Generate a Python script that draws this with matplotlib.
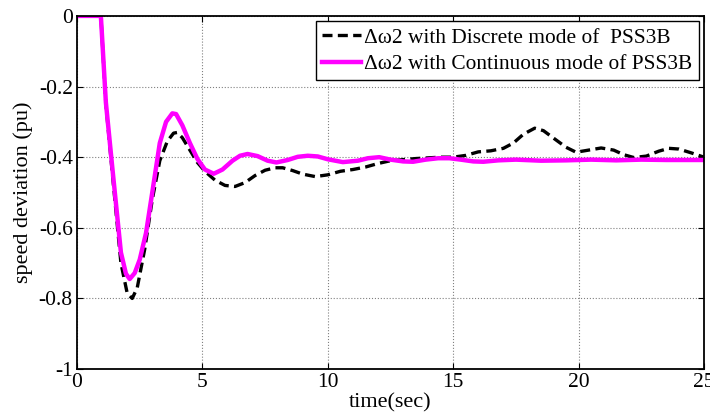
import matplotlib
matplotlib.use("Agg")
import matplotlib.pyplot as plt

# --- data ---
t_discrete = [0, 0.95, 1.15, 1.4, 1.75, 2.0, 2.2, 2.4, 2.7, 3.0, 3.3, 3.6, 3.85, 4.0,
              4.2, 4.5, 4.8, 5.1, 5.5, 5.9, 6.3, 6.7, 7.1, 7.5, 7.9, 8.2, 8.6, 9.0,
              9.5, 10.0, 10.5, 11.0, 11.5, 12.0, 12.5, 13.0, 13.5, 14.0, 14.5, 15.0,
              15.5, 16.0, 16.5, 17.0, 17.4, 17.8, 18.25, 18.6, 19.0, 19.5, 19.9,
              20.4, 20.9, 21.4, 21.8, 22.2, 22.7, 23.2, 23.6, 24.0, 24.5, 25.0]
w_discrete = [0, 0, -0.25, -0.44, -0.70, -0.785, -0.80, -0.77, -0.66, -0.52, -0.41,
              -0.355, -0.332, -0.33, -0.345, -0.38, -0.415, -0.44, -0.465, -0.48,
              -0.483, -0.472, -0.452, -0.437, -0.43, -0.43, -0.438, -0.448, -0.455,
              -0.45, -0.44, -0.435, -0.428, -0.418, -0.41, -0.407, -0.404, -0.402,
              -0.40, -0.40, -0.395, -0.385, -0.382, -0.375, -0.36, -0.335, -0.318,
              -0.325, -0.346, -0.372, -0.386, -0.38, -0.374, -0.38, -0.393, -0.401,
              -0.397, -0.383, -0.375, -0.377, -0.388, -0.40]

t_continuous = [0, 0.95, 1.15, 1.4, 1.75, 1.95, 2.1, 2.3, 2.5, 2.75, 3.0, 3.3, 3.55,
                3.8, 3.95, 4.2, 4.5, 4.8, 5.1, 5.45, 5.8, 6.2, 6.5, 6.8, 7.2, 7.6,
                7.95, 8.4, 8.8, 9.2, 9.6, 10.0, 10.6, 11.2, 11.6, 12.05, 12.5, 13.0,
                13.4, 13.9, 14.4, 14.85, 15.3, 15.8, 16.2, 16.8, 17.5, 18.5, 19.5,
                20.5, 21.5, 22.5, 23.5, 24.5, 25.0]
w_continuous = [0, 0, -0.245, -0.425, -0.67, -0.73, -0.745, -0.728, -0.69, -0.615,
                -0.50, -0.36, -0.30, -0.276, -0.278, -0.31, -0.36, -0.405, -0.435,
                -0.447, -0.435, -0.41, -0.396, -0.391, -0.397, -0.41, -0.415, -0.408,
                -0.399, -0.396, -0.398, -0.406, -0.414, -0.41, -0.403, -0.40, -0.407,
                -0.412, -0.413, -0.407, -0.403, -0.403, -0.407, -0.412, -0.413,
                -0.409, -0.407, -0.41, -0.409, -0.407, -0.409, -0.407, -0.408,
                -0.408, -0.408]

x_ticks = [0, 5, 10, 15, 20, 25]
y_ticks = [-1, -0.8, -0.6, -0.4, -0.2, 0]
y_labels = ["-1", "-0.8", "-0.6", "-0.4", "-0.2", "0"]

plt.rcParams['font.family'] = ['Liberation Serif', 'DejaVu Serif']

fig = plt.figure(figsize=(7.1, 4.18), dpi=100)
ax = fig.add_axes([0.1085, 0.117, 0.883, 0.845])

ax.plot(t_discrete, w_discrete, color='black', lw=2.4, ls=(0, (3, 1.6)),
        label="\u0394\u03c92 with Discrete mode of  PSS3B")
ax.plot(t_continuous, w_continuous, color='#ff00ff', lw=3.2,
        label="\u0394\u03c92 with Continuous mode of PSS3B")

ax.set_xlim(0, 25)
ax.set_ylim(-1, 0)
ax.set_xticks(x_ticks)
ax.set_yticks(y_ticks)
ax.set_yticklabels(y_labels)
ax.tick_params(direction='in', top=True, right=True, labelsize=15.5, length=4, pad=3)
ax.grid(True, color='#808080', ls=':', lw=0.8)
for s in ax.spines.values():
    s.set_linewidth(1.3)

ax.set_xlabel("time(sec)", fontsize=16, labelpad=1)
ax.set_ylabel("speed deviation (pu)", fontsize=16, labelpad=4)

leg = ax.legend(loc='upper right', fontsize=15.4, handlelength=1.8, handletextpad=0.15,
                borderpad=0.3, labelspacing=0.3, borderaxespad=0.25,
                fancybox=False, framealpha=1)
leg.get_frame().set_edgecolor('black')
leg.get_frame().set_linewidth(1.0)

fig.savefig("out.png", dpi=100)
